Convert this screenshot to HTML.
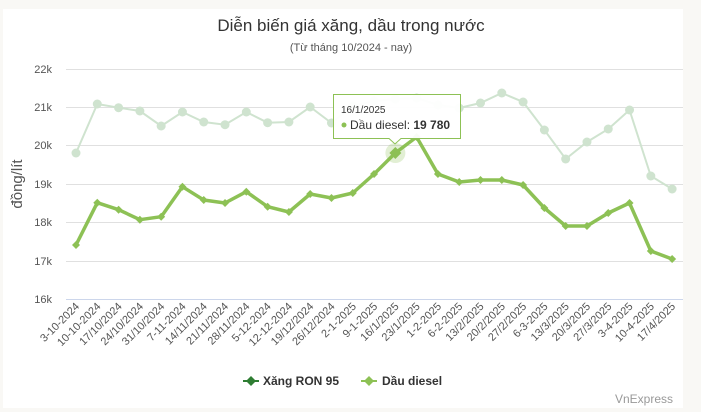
<!DOCTYPE html>
<html><head><meta charset="utf-8">
<style>
html,body{margin:0;padding:0;background:#f9f8f5;}
body{width:701px;height:412px;overflow:hidden;position:relative;font-family:"Liberation Sans",Arial,sans-serif;}
#card{position:absolute;left:3px;top:9px;width:680px;height:399px;background:#fff;}
svg{position:absolute;left:0;top:0;}
</style></head><body>
<div id="card"></div>
<svg id="s" width="701" height="412" xmlns="http://www.w3.org/2000/svg" font-family="Liberation Sans, Arial, sans-serif">
<text x="351" y="31" text-anchor="middle" font-size="17" fill="#333">Diễn biến giá xăng, dầu trong nước</text>
<text x="351" y="51" text-anchor="middle" font-size="11" fill="#555">(Từ tháng 10/2024 - nay)</text>
<g stroke="#e0e0e0" stroke-width="1">
<line x1="66" x2="683" y1="69.5" y2="69.5"/><line x1="66" x2="683" y1="107.5" y2="107.5"/>
<line x1="66" x2="683" y1="145.5" y2="145.5"/><line x1="66" x2="683" y1="184.5" y2="184.5"/>
<line x1="66" x2="683" y1="222.5" y2="222.5"/><line x1="66" x2="683" y1="261.5" y2="261.5"/>
</g>
<line x1="66" x2="683" y1="299.5" y2="299.5" stroke="#ccd6eb"/>
<g font-size="11" fill="#555" text-anchor="end">
<text x="52" y="73">22k</text><text x="52" y="111">21k</text><text x="52" y="149">20k</text>
<text x="52" y="188">19k</text><text x="52" y="226">18k</text><text x="52" y="265">17k</text><text x="52" y="303">16k</text>
</g>
<text transform="translate(22,184) rotate(-90)" text-anchor="middle" font-size="15" fill="#555">đồng/lít</text>
<g id="xl" font-size="11" fill="#555" text-anchor="end">
<text transform="translate(80,307) rotate(-45)">3-10-2024</text>
<text transform="translate(101.3,307) rotate(-45)">10-10-2024</text>
<text transform="translate(122.6,307) rotate(-45)">17/10/2024</text>
<text transform="translate(143.9,307) rotate(-45)">24/10/2024</text>
<text transform="translate(165.2,307) rotate(-45)">31/10/2024</text>
<text transform="translate(186.5,307) rotate(-45)">7-11-2024</text>
<text transform="translate(207.7,307) rotate(-45)">14/11/2024</text>
<text transform="translate(229,307) rotate(-45)">21/11/2024</text>
<text transform="translate(250.3,307) rotate(-45)">28/11/2024</text>
<text transform="translate(271.6,307) rotate(-45)">5-12-2024</text>
<text transform="translate(292.9,307) rotate(-45)">12-12-2024</text>
<text transform="translate(314.2,307) rotate(-45)">19/12/2024</text>
<text transform="translate(335.5,307) rotate(-45)">26/12/2024</text>
<text transform="translate(356.8,307) rotate(-45)">2-1-2025</text>
<text transform="translate(378.1,307) rotate(-45)">9-1-2025</text>
<text transform="translate(399.4,307) rotate(-45)">16/1/2025</text>
<text transform="translate(420.6,307) rotate(-45)">23/1/2025</text>
<text transform="translate(441.9,307) rotate(-45)">1-2-2025</text>
<text transform="translate(463.2,307) rotate(-45)">6-2-2025</text>
<text transform="translate(484.5,307) rotate(-45)">13/2/2025</text>
<text transform="translate(505.8,307) rotate(-45)">20/2/2025</text>
<text transform="translate(527.1,307) rotate(-45)">27/2/2025</text>
<text transform="translate(548.4,307) rotate(-45)">6-3-2025</text>
<text transform="translate(569.7,307) rotate(-45)">13/3/2025</text>
<text transform="translate(591,307) rotate(-45)">20/3/2025</text>
<text transform="translate(612.3,307) rotate(-45)">27/3/2025</text>
<text transform="translate(633.5,307) rotate(-45)">3-4-2025</text>
<text transform="translate(654.8,307) rotate(-45)">10-4-2025</text>
<text transform="translate(676,307) rotate(-45)">17/4/2025</text>
</g>
<g id="series"></g>
<g id="tip">
<circle cx="395.4" cy="153" r="10" fill="#8dc155" opacity="0.25"/>
<path d="M333.5,94.5 H460.5 V138.5 H401 L395,144 L389,138.5 H333.5 Z" fill="#fff" fill-opacity="0.95" stroke="#8dc155" stroke-width="1"/>
<text x="341" y="113" font-size="10" fill="#333">16/1/2025</text>
<circle cx="344" cy="125" r="2.5" fill="#8dc155"/>
<text x="350" y="129" font-size="12" fill="#333">Dầu diesel: <tspan font-weight="bold">19 780</tspan></text>
</g>
<g font-size="12" font-weight="bold" fill="#333">
<line x1="243" x2="259" y1="381" y2="381" stroke="#2e7d32" stroke-width="2"/>
<path d="M251,376 L256,381 L251,386 L246,381Z" fill="#2e7d32"/>
<text x="263" y="385">Xăng RON 95</text>
<line x1="361" x2="377" y1="381" y2="381" stroke="#8dc155" stroke-width="2"/>
<path d="M369,376 L374,381 L369,386 L364,381Z" fill="#8dc155"/>
<text x="382" y="385">Dầu diesel</text>
</g>
<text x="673" y="403" text-anchor="end" font-size="12" fill="#999">VnExpress</text>
</svg>
<script>
var xa=[153,104,107.7,111,126,112,122,124.7,112,122.7,122,107,123,106,101,99,98,105,108,103,93,102,130,159,142,129,110,176,189];
var di=[245,202.7,209.7,219.7,216.7,186.7,200,203,191.7,206.7,212,194,198,193,174,153,137,174,182,180,180,185,208,226,226,213,203,251,259];
var g=document.getElementById('series'),ns='http://www.w3.org/2000/svg',h='';
function px(i){return 76+21.29*i;}
var p1=xa.map(function(y,i){return px(i).toFixed(1)+','+y}).join(' ');
var p2=di.map(function(y,i){return px(i).toFixed(1)+','+y}).join(' ');
h+='<polyline points="'+p1+'" fill="none" stroke="#cfe3cf" stroke-width="2"/>';
xa.forEach(function(y,i){h+='<circle cx="'+px(i)+'" cy="'+y+'" r="4.5" fill="#cfe3cf"/>';});
h+='<polyline points="'+p2+'" fill="none" stroke="#8dc155" stroke-width="3.5" stroke-linejoin="round"/>';
di.forEach(function(y,i){var x=px(i),r=i==15?6:4;h+='<path d="M'+x+','+(y-r)+' L'+(x+r)+','+y+' L'+x+','+(y+r)+' L'+(x-r)+','+y+'Z" fill="#8dc155"/>';});
g.innerHTML=h;
</script>
</body></html>
